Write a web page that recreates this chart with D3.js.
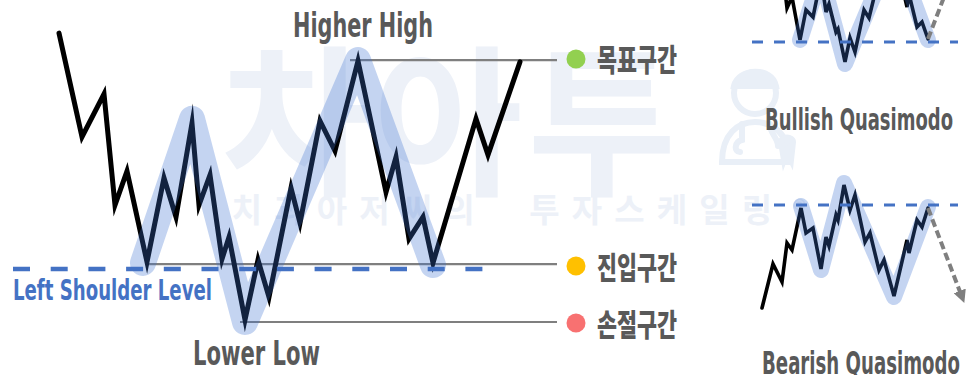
<!DOCTYPE html>
<html><head><meta charset="utf-8">
<script src="https://cdn.jsdelivr.net/npm/d3@7"></script>
<style>html,body{margin:0;padding:0;background:#fff;overflow:hidden}</style>
</head><body><svg id="c" width="969" height="375"></svg>
<script>
// ---------- main pattern data (time units, price units) ----------
const mainTime  = [3.8,8.4,12.8,15,17.4,21.4,24.8,27.2,30.4,31.8,34,36.4,37.8,41,43.6,45.8,50.2,52,56,59,63.6,69.2,71.2,73.8,76.6,78.6,87.2,89.6,96];
const mainPrice = [102.3,67.7,82,45,56.3,26,54,41,72.3,45,55,27,34.3,6.7,26.7,14.3,50.7,39,73,63,93,49.3,61,33.7,41,25.7,73.7,61.7,92.7];
const swingTime  = [20.6,30.4,41,63.6,78.6];
const swingPrice = [25.7,73.7,6,93.3,25];
const levelNames = ["목표구간","진입구간","손절구간"];
const levelPrice = [93.3,25.3,6];
const levelStart = [62,21.4,40];
const levelEnd = 103.4;
const shoulderLevel = 23.7;
const shoulderFrom = -5.4, shoulderTo = 89.2;
const mainLabels = ["Higher High","Lower Low","Left Shoulder Level"];

// ---------- Quasimodo mini patterns ----------
const bearTime  = [2,13,22,27,32,41,46,53,61,66,69,76,78,84,90,95,105,110,119,124,134,147,149,157,162,168];
const bearPrice = [2,46,28,67,60,102,77,82,41,73,64,95,90,125,100,115,68,77,40,50,14,70,57,90,83,102];
const bearSwingTime  = [41,61,84,134,168];
const bearSwingPrice = [104,40,127,13,103];
const bearArrow = [[168,102],[202,13]];
const bearLevel = 105;

const bullTime  = [2,13,22,27,32,40,46,53,61,66,69,76,78,85,90,95,104,109,119,124,134,147,149,157,162,168];
const bullPrice = [201,157,175,132,143,100,130,123,162,128,136,108,111,78,102,88,130,122,163,153,189,133,146,113,118,101];
const bullSwingTime  = [40,61,85,134,168];
const bullSwingPrice = [100,165,76,192,100];
const bullArrow = [[168,101],[202,190]];
const bullLevel = 98;
const miniLabels = ["Bullish Quasimodo","Bearish Quasimodo"];
const miniLevelFrom = -8, miniLevelTo = 198;

const watermarkBig = ["차","아","투"];
const watermarkSmall = ["치","과","아","저","씨","의"," ","투","자","스","케","일","링","®"];

// ---------- styles ----------
const C = {
  ink:"#000", gray:"#7f7f7f", blue:"#4472c4", text:"#595959",
  band:"#3d6fd0", bandOpacity:0.3, wm:"#edf1f8",
  dots:["#92d050","#ffc000","#f87171"]
};
const latin = "'DejaVu Sans Condensed','DejaVu Sans',sans-serif";
const cjk = "'Noto Sans CJK KR','Noto Sans',sans-serif";

const svg = d3.select("#c");
svg.append("rect").attr("width",969).attr("height",375).attr("fill","#fff");

// ---------- scales ----------
const x = d3.scaleLinear().domain([0,100]).range([40,540]);
const y = d3.scaleLinear().domain([0,100]).range([340,40]);
const xs = d3.scaleLinear().domain([0,200]).range([760,960]);
const yBear = d3.scaleLinear().domain([0,120]).range([310,190]);
const yBull = d3.scaleLinear().domain([0,120]).range([140,20]);

// ---------- watermark ----------
const wm = svg.append("g");
const bigX = [296,448,602];
wm.selectAll("text.big").data(watermarkBig).join("text")
  .attr("x",(d,i)=>bigX[i]).attr("y",112)
  .attr("text-anchor","middle").attr("dominant-baseline","central")
  .attr("font-family",cjk).attr("font-weight",700).attr("font-size",162)
  .attr("fill",C.wm).text(d=>d);
wm.selectAll("text.small").data(watermarkSmall).join("text")
  .attr("x",(d,i)=>247+i*42.5).attr("y",208)
  .attr("text-anchor","middle").attr("dominant-baseline","central")
  .attr("font-family",cjk).attr("font-weight",700).attr("font-size",(d)=>d==="®"?26:33)
  .attr("fill",C.wm).text(d=>d);
// faint doctor icon
const ic = wm.append("g").attr("fill","none").attr("stroke","#e9eff7").attr("stroke-width",6).attr("stroke-linecap","round");
ic.append("circle").attr("cx",755).attr("cy",93).attr("r",21);
ic.append("path").attr("d","M734,86 C738,68 772,66 776,86 Z").attr("fill","#e9eff7");
ic.append("path").attr("d","M722,162 C722,134 738,122 755,122 C772,122 790,134 790,162 Z");
ic.append("path").attr("d","M742,124 L742,140 C734,142 734,152 740,152 M770,124 C770,134 778,138 778,146");
ic.append("path").attr("d","M781,142 C781,136 793,136 793,142 L791,160 L787,152 L784,160 Z").attr("fill","#e9eff7");

// ---------- main chart ----------
const g = svg.append("g");
const line = d3.line().x(d=>x(d[0])).y(d=>y(d[1]));

// level lines
levelPrice.forEach((p,i)=>{
  g.append("line").attr("x1",x(levelStart[i])).attr("x2",x(levelEnd))
   .attr("y1",y(p)).attr("y2",y(p))
   .attr("stroke",C.gray).attr("stroke-width",2.2);
});

// price line
const mainData = mainTime.map((t,i)=>[t,mainPrice[i]]);
g.append("path").attr("d",line(mainData)).attr("fill","none")
 .attr("stroke",C.ink).attr("stroke-width",5)
 .attr("stroke-linejoin","miter").attr("stroke-miterlimit",10).attr("stroke-linecap","round");

// swing band
const swingData = swingTime.map((t,i)=>[t,swingPrice[i]]);
g.append("path").attr("d",line(swingData)).attr("fill","none")
 .attr("stroke",C.band).attr("stroke-opacity",C.bandOpacity).attr("stroke-width",26)
 .attr("stroke-linejoin","round").attr("stroke-linecap","round");

// shoulder dashed level
g.append("line").attr("x1",x(shoulderFrom)).attr("x2",x(shoulderTo))
 .attr("y1",y(shoulderLevel)).attr("y2",y(shoulderLevel))
 .attr("stroke",C.blue).attr("stroke-width",4.5).attr("stroke-dasharray","17 20.7");

// legend dots + labels
levelPrice.forEach((p,i)=>{
  const cy = [59,266,323][i];
  g.append("circle").attr("cx",x(107.2)).attr("cy",cy).attr("r",9.5).attr("fill",C.dots[i]);
  g.append("text").attr("x",x(111.4)).attr("y",[57.5,265,322.5][i])
   .attr("dominant-baseline","central")
   .attr("font-family",cjk).attr("font-weight",900).attr("font-size",31)
   .attr("fill",C.text).attr("textLength",80).attr("lengthAdjust","spacingAndGlyphs")
   .text(levelNames[i]);
});

function label(txt,px,py,size,len,fill){
  svg.append("text").attr("x",px).attr("y",py)
   .attr("font-family",latin).attr("font-weight",700).attr("font-size",size)
   .attr("fill",fill).attr("textLength",len).attr("lengthAdjust","spacingAndGlyphs")
   .text(txt);
}
label(mainLabels[0],293,37,33,140,C.text);
label(mainLabels[1],193,365,34,127,C.text);
label(mainLabels[2],13,300,29,199,C.blue);

// ---------- mini charts ----------
svg.append("defs").append("marker").attr("id","ah")
  .attr("viewBox","0 0 10 10").attr("refX",5).attr("refY",5)
  .attr("markerWidth",13).attr("markerHeight",13).attr("markerUnits","userSpaceOnUse")
  .attr("orient","auto")
  .append("path").attr("d","M0,0 L10,5 L0,10 Z").attr("fill",C.gray);

function mini(times,prices,sT,sP,arrow,level,ys,withHead){
  const m = svg.append("g");
  const ln = d3.line().x(d=>xs(d[0])).y(d=>ys(d[1]));
  m.append("path").attr("d",ln(times.map((t,i)=>[t,prices[i]]))).attr("fill","none")
   .attr("stroke",C.ink).attr("stroke-width",3.6).attr("stroke-linejoin","miter").attr("stroke-linecap","round");
  m.append("path").attr("d",ln(sT.map((t,i)=>[t,sP[i]]))).attr("fill","none")
   .attr("stroke",C.band).attr("stroke-opacity",C.bandOpacity).attr("stroke-width",16)
   .attr("stroke-linejoin","round").attr("stroke-linecap","round");
  m.append("line").attr("x1",xs(miniLevelFrom)).attr("x2",xs(miniLevelTo))
   .attr("y1",ys(level)).attr("y2",ys(level))
   .attr("stroke",C.blue).attr("stroke-width",3).attr("stroke-dasharray","11 11");
  const a = m.append("path").attr("d",ln(arrow)).attr("fill","none")
   .attr("stroke",C.gray).attr("stroke-width",4).attr("stroke-dasharray","8 4");
  if(withHead) a.attr("marker-end","url(#ah)");
}
mini(bullTime,bullPrice,bullSwingTime,bullSwingPrice,bullArrow,bullLevel,yBull,false);
mini(bearTime,bearPrice,bearSwingTime,bearSwingPrice,bearArrow,bearLevel,yBear,true);
label(miniLabels[0],765,130,31,188,C.text);
label(miniLabels[1],762,374,32,198,C.text);
</script></body></html>
